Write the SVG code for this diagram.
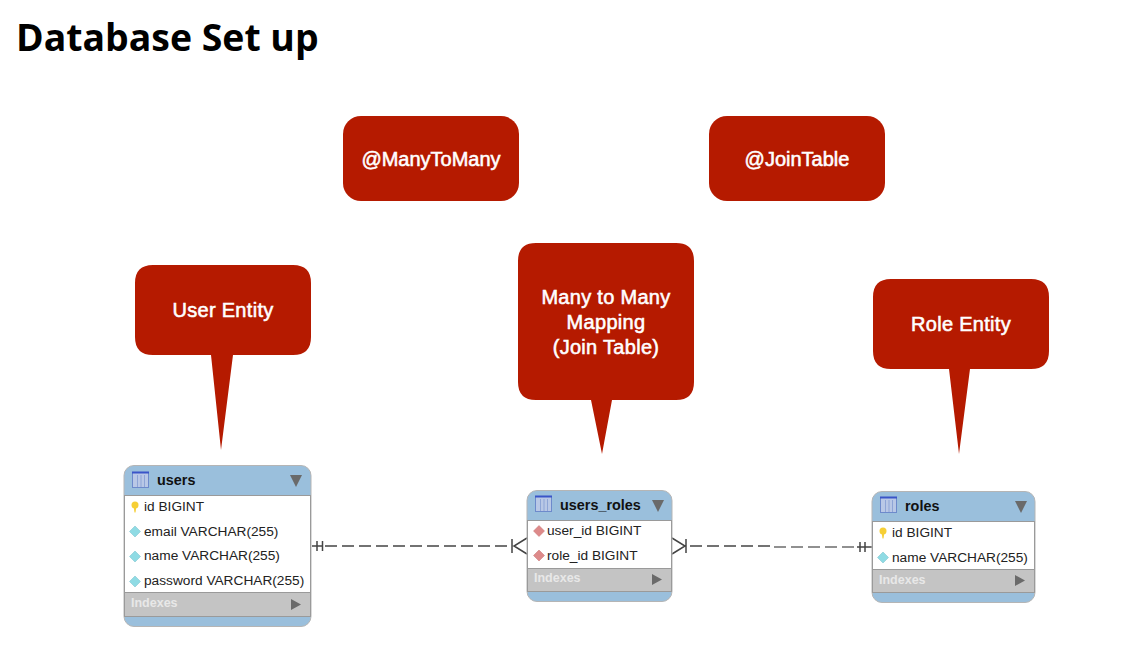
<svg xmlns="http://www.w3.org/2000/svg" width="1137" height="653" viewBox="0 0 1137 653">
<style>
text{font-family:"Liberation Sans",Arial,sans-serif}
.title{font-family:"Open Sans","Noto Sans",sans-serif;font-size:37.4px;font-weight:700;fill:#000}
.call{fill:#b51a00}
.ct{font-size:20px;font-weight:400;fill:#fff;stroke:#fff;stroke-width:.55;text-anchor:middle}
.sp{letter-spacing:.3px}
.frame{fill:#9abfdc;stroke:#b5b5b5;stroke-width:1}
.body{fill:#fff}
.idx{fill:#c4c4c4}
.sep{stroke:#9a9a9a;stroke-width:1;fill:none}
.name{font-size:14.4px;font-weight:700;fill:#111}
.col{font-size:13.7px;fill:#222}
.ix{font-size:12.5px;font-weight:700;fill:#e8e8e8}
.tri{fill:#6a6a6a}
.d1{fill:#8fdbe4;stroke:#74bfcb;stroke-width:.5}
.d2{fill:#dd8a8a;stroke:#c77070;stroke-width:.5}
.key{fill:#f6cf36}
.ico{fill:#b9c8e6;stroke:#6d8acb;stroke-width:1}
.ico2{fill:#3a55c8}
.ico3{stroke:#8ea5d6;stroke-width:1;fill:none}
.ln{stroke:#444;stroke-width:1.5;fill:none}
.l2{stroke:#222;stroke-width:1.2}
.dash{stroke-dasharray:12 5}
</style>
<rect width="1137" height="653" fill="#fff"/>
<text class="title" x="16" y="51">Database Set up</text>

<g id="connectors">
<path class="ln dash" d="M325 546H512"/>
<path class="ln" d="M312 546H322M317 541V551M322.500 541V551M512 539V553M527 538L514 546L527 554"/>
<path class="ln dash" d="M690 546H771"/>
<path class="ln l2 dash" d="M774 547H857"/>
<path class="ln" d="M672 538L685 546L672 554M686 539V553M860 542V552M865 542V552M857 547H872"/>
</g>

<g id="call-manytomany">
<rect class="call" x="343" y="116" width="176" height="85" rx="18"/>
<text class="ct" x="431" y="165.500">@ManyToMany</text>
</g>
<g id="call-jointable">
<rect class="call" x="709" y="116" width="176" height="85" rx="18"/>
<text class="ct" x="797" y="165.500">@JoinTable</text>
</g>
<g id="call-user">
<path class="call" d="M153 265H293Q311 265 311 283V337Q311 355 293 355H233L221 450L211 355H153Q135 355 135 337V283Q135 265 153 265Z"/>
<text class="ct sp" x="223" y="316.500">User Entity</text>
</g>
<g id="call-join">
<path class="call" d="M536 243H676Q694 243 694 261V382Q694 400 676 400H612L602 454L591 400H536Q518 400 518 382V261Q518 243 536 243Z"/>
<text class="ct sp" x="606" y="304">Many to Many</text>
<text class="ct sp" x="606" y="329">Mapping</text>
<text class="ct sp" x="606" y="353.500">(Join Table)</text>
</g>
<g id="call-role">
<path class="call" d="M891 279H1031Q1049 279 1049 297V351Q1049 369 1031 369H970L959 454L949 369H891Q873 369 873 351V297Q873 279 891 279Z"/>
<text class="ct sp" x="961" y="331">Role Entity</text>
</g>

<g id="users">
<rect class="frame" x="124" y="465.500" width="187" height="161" rx="10"/>
<rect class="body" x="124.500" y="495" width="186" height="97"/>
<rect class="idx" x="124.500" y="592" width="186" height="25"/>
<path class="sep" d="M124.500 495.500H310.500M124.500 592.500H310.500M124.500 616.500H310.500M124.500 495V617M310.500 495V617"/>
<rect class="ico" x="132.500" y="472.500" width="16" height="15"/><rect class="ico2" x="132" y="471.500" width="17" height="2"/>
<path class="ico3" d="M137.500 475V487M141 475V487M144.500 475V487"/>
<text class="name" x="157" y="484.500">users</text>
<path class="tri" d="M290 475H302L296 487Z"/>
<circle class="key" cx="135" cy="505" r="3.500"/><path class="key" d="M133.500 506H136.500L135.500 512.500H134.500Z"/>
<text class="col" x="144" y="511">id BIGINT</text>
<path class="d1" d="M135 526L140.500 531.500L135 537L129.500 531.500Z"/><text class="col" x="144" y="535.500">email VARCHAR(255)</text>
<path class="d1" d="M135 551L140.500 556.500L135 562L129.500 556.500Z"/><text class="col" x="144" y="560">name VARCHAR(255)</text>
<path class="d1" d="M135 576L140.500 581.500L135 587L129.500 581.500Z"/><text class="col" x="144" y="585">password VARCHAR(255)</text>
<text class="ix" x="131" y="607">Indexes</text>
<path class="tri" d="M291 599L301 604.500L291 610Z"/>
</g>

<g id="users_roles">
<rect class="frame" x="527" y="490.500" width="145" height="111" rx="10"/>
<rect class="body" x="527.500" y="520" width="144" height="48"/>
<rect class="idx" x="527.500" y="568" width="144" height="24"/>
<path class="sep" d="M527.500 520.500H671.500M527.500 568.500H671.500M527.500 591.500H671.500M527.500 520V592M671.500 520V592"/>
<rect class="ico" x="535.500" y="496.500" width="16" height="15"/><rect class="ico2" x="535" y="495.500" width="17" height="2"/>
<path class="ico3" d="M540.500 499V511M544 499V511M547.500 499V511"/>
<text class="name" x="560" y="509.500">users_roles</text>
<path class="tri" d="M652 500H664L658 512Z"/>
<path class="d2" d="M539 525.500L544.500 531L539 536.500L533.500 531Z"/><text class="col" x="547" y="535">user_id BIGINT</text>
<path class="d2" d="M539 550L544.500 555.500L539 561L533.500 555.500Z"/><text class="col" x="547" y="559.500">role_id BIGINT</text>
<text class="ix" x="534" y="582">Indexes</text>
<path class="tri" d="M652 574L662 579.500L652 585Z"/>
</g>

<g id="roles">
<rect class="frame" x="872" y="491.500" width="163" height="111" rx="10"/>
<rect class="body" x="872.500" y="521" width="162" height="48"/>
<rect class="idx" x="872.500" y="569" width="162" height="24"/>
<path class="sep" d="M872.500 521.500H1034.500M872.500 569.500H1034.500M872.500 592.500H1034.500M872.500 521V593M1034.500 521V593"/>
<rect class="ico" x="880.500" y="497.500" width="16" height="15"/><rect class="ico2" x="880" y="496.500" width="17" height="2"/>
<path class="ico3" d="M885.500 500V512M889 500V512M892.500 500V512"/>
<text class="name" x="905" y="510.500">roles</text>
<path class="tri" d="M1015 501H1027L1021 513Z"/>
<circle class="key" cx="883" cy="531" r="3.500"/><path class="key" d="M881.500 532H884.500L883.500 538.500H882.500Z"/>
<text class="col" x="892" y="536.500">id BIGINT</text>
<path class="d1" d="M883 552L888.500 557.500L883 563L877.500 557.500Z"/><text class="col" x="892" y="561.500">name VARCHAR(255)</text>
<text class="ix" x="879" y="583.500">Indexes</text>
<path class="tri" d="M1015 575L1025 580.500L1015 586Z"/>
</g>
</svg>
